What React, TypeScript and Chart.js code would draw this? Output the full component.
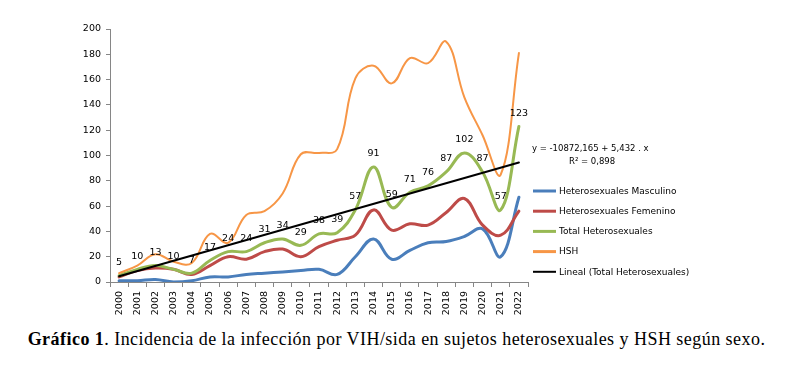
import React, { useEffect, useRef } from 'react';
import { Chart, registerables } from 'chart.js';

Chart.register(...registerables);

const years = ['2000', '2001', '2002', '2003', '2004', '2005', '2006', '2007', '2008', '2009', '2010', '2011', '2012', '2013', '2014', '2015', '2016', '2017', '2018', '2019', '2020', '2021', '2022'];
const masculino = [1, 1, 2, 0, 1, 4, 4, 6, 7, 8, 9, 10, 6, 20, 34, 18, 25, 31, 32, 36, 42, 20, 67];
const femenino = [4, 9, 11, 10, 6, 13, 20, 18, 24, 26, 20, 28, 33, 37, 57, 41, 46, 45, 55, 66, 45, 37, 56];
const totalHetero = [5, 10, 13, 10, 7, 17, 24, 24, 31, 34, 29, 38, 39, 57, 91, 59, 71, 76, 87, 102, 87, 57, 123];
const hsh = [7, 13, 22, 16, 15, 38, 31, 53, 56, 70, 101, 102, 105, 161, 171, 157, 177, 173, 190, 146, 116, 85, 181];
// linear trend (Total Heterosexuales) read at first and last year
const trendFirst = 4.5;
const trendLast = 94.5;
const yTicks = { min: 0, max: 200, step: 20 };

const seriesNames = ['Heterosexuales Masculino', 'Heterosexuales Femenino', 'Total Heterosexuales', 'HSH', 'Lineal (Total Heterosexuales)'];
const seriesColors = ['#4A7EBB', '#BE4B48', '#98B954', '#F79646', '#000000'];
const equationText = 'y = -10872,165 + 5,432 . x';
const r2Text = 'R² = 0,898';

const trendData = years.map((_, i) => (i === 0 ? trendFirst : i === years.length - 1 ? trendLast : null));

const FONT = "'DejaVu Sans', Verdana, sans-serif";

const overlayPlugin = {
  id: 'overlay',
  afterDatasetsDraw(chart: any) {
    const ctx = chart.ctx;
    ctx.save();
    // data labels for total series
    const meta = chart.getDatasetMeta(2);
    ctx.fillStyle = '#000';
    ctx.font = `9.5px ${FONT}`;
    ctx.textAlign = 'center';
    ctx.textBaseline = 'middle';
    meta.data.forEach((pt: any, i: number) => {
      ctx.fillText(String(totalHetero[i]), pt.x, pt.y - 13);
    });
    // legend
    const lx = chart.chartArea.right + 5;
    ctx.textAlign = 'left';
    ctx.font = `9px ${FONT}`;
    seriesNames.forEach((name, i) => {
      const y = 191 + i * 20.2;
      ctx.strokeStyle = seriesColors[i];
      ctx.lineWidth = i === 4 ? 2 : 3;
      ctx.beginPath();
      ctx.moveTo(lx, y);
      ctx.lineTo(lx + 23, y);
      ctx.stroke();
      ctx.fillStyle = '#000';
      ctx.fillText(name, lx + 26, y + 0.5);
    });
    // equation
    ctx.font = `8.5px ${FONT}`;
    ctx.fillText(equationText, lx - 1, 149);
    ctx.fillText(r2Text, lx + 36, 162);
    ctx.restore();
  },
};

export default function App() {
  const canvasRef = useRef<HTMLCanvasElement | null>(null);

  useEffect(() => {
    document.body.style.margin = '0';
    const canvas = canvasRef.current;
    if (!canvas) return;
    const widths = [3, 3, 3, 2, 2];
    const sets = [masculino, femenino, totalHetero, hsh, trendData];
    const chart = new Chart(canvas, {
      type: 'line',
      data: {
        labels: years,
        datasets: sets.map((d, i) => ({
          label: seriesNames[i],
          data: d as any,
          borderColor: seriesColors[i],
          backgroundColor: seriesColors[i],
          borderWidth: widths[i],
          pointRadius: 0,
          tension: i === 4 ? 0 : 0.4,
          spanGaps: true,
          fill: false,
          order: 5 - i,
          borderCapStyle: 'round',
          borderJoinStyle: 'round',
        })),
      },
      options: {
        responsive: false,
        animation: false,
        devicePixelRatio: 1,
        layout: { padding: { top: 29, right: 265, left: 0, bottom: 0 } },
        plugins: { legend: { display: false }, tooltip: { enabled: false } },
        scales: {
          x: {
            type: 'category',
            offset: true,
            grid: { display: true, drawOnChartArea: false, drawTicks: true, tickLength: 5, color: '#868686', offset: true },
            border: { display: true, color: '#868686', width: 1 },
            ticks: { minRotation: 90, maxRotation: 90, autoSkip: false, padding: 4, color: '#000', font: { family: FONT, size: 9.5 } },
            afterFit: (s: any) => { s.height = 36; },
          },
          y: {
            min: yTicks.min,
            max: yTicks.max,
            grid: { display: true, drawOnChartArea: false, drawTicks: true, tickLength: 4, color: '#868686' },
            border: { display: true, color: '#868686', width: 1 },
            ticks: { stepSize: yTicks.step, padding: 5, color: '#000', font: { family: FONT, size: 9.5 } },
            afterFit: (s: any) => { s.width = 110; },
          },
        },
      },
      plugins: [overlayPlugin],
    });
    return () => chart.destroy();
  }, []);

  return (
    <div style={{ position: 'relative', width: 793, height: 367, background: '#fff' }}>
      <canvas ref={canvasRef} width={793} height={318} style={{ position: 'absolute', left: 0, top: 0 }} />
      <div
        style={{
          position: 'absolute',
          left: 0,
          top: 329,
          width: 793,
          textAlign: 'center',
          fontFamily: "'Liberation Serif', serif",
          fontSize: 18,
          letterSpacing: '0.46px',
          lineHeight: '20px',
          color: '#000',
          whiteSpace: 'nowrap',
        }}
      >
        <b>Gráfico 1</b>. Incidencia de la infección por VIH/sida en sujetos heterosexuales y HSH según sexo.
      </div>
    </div>
  );
}
